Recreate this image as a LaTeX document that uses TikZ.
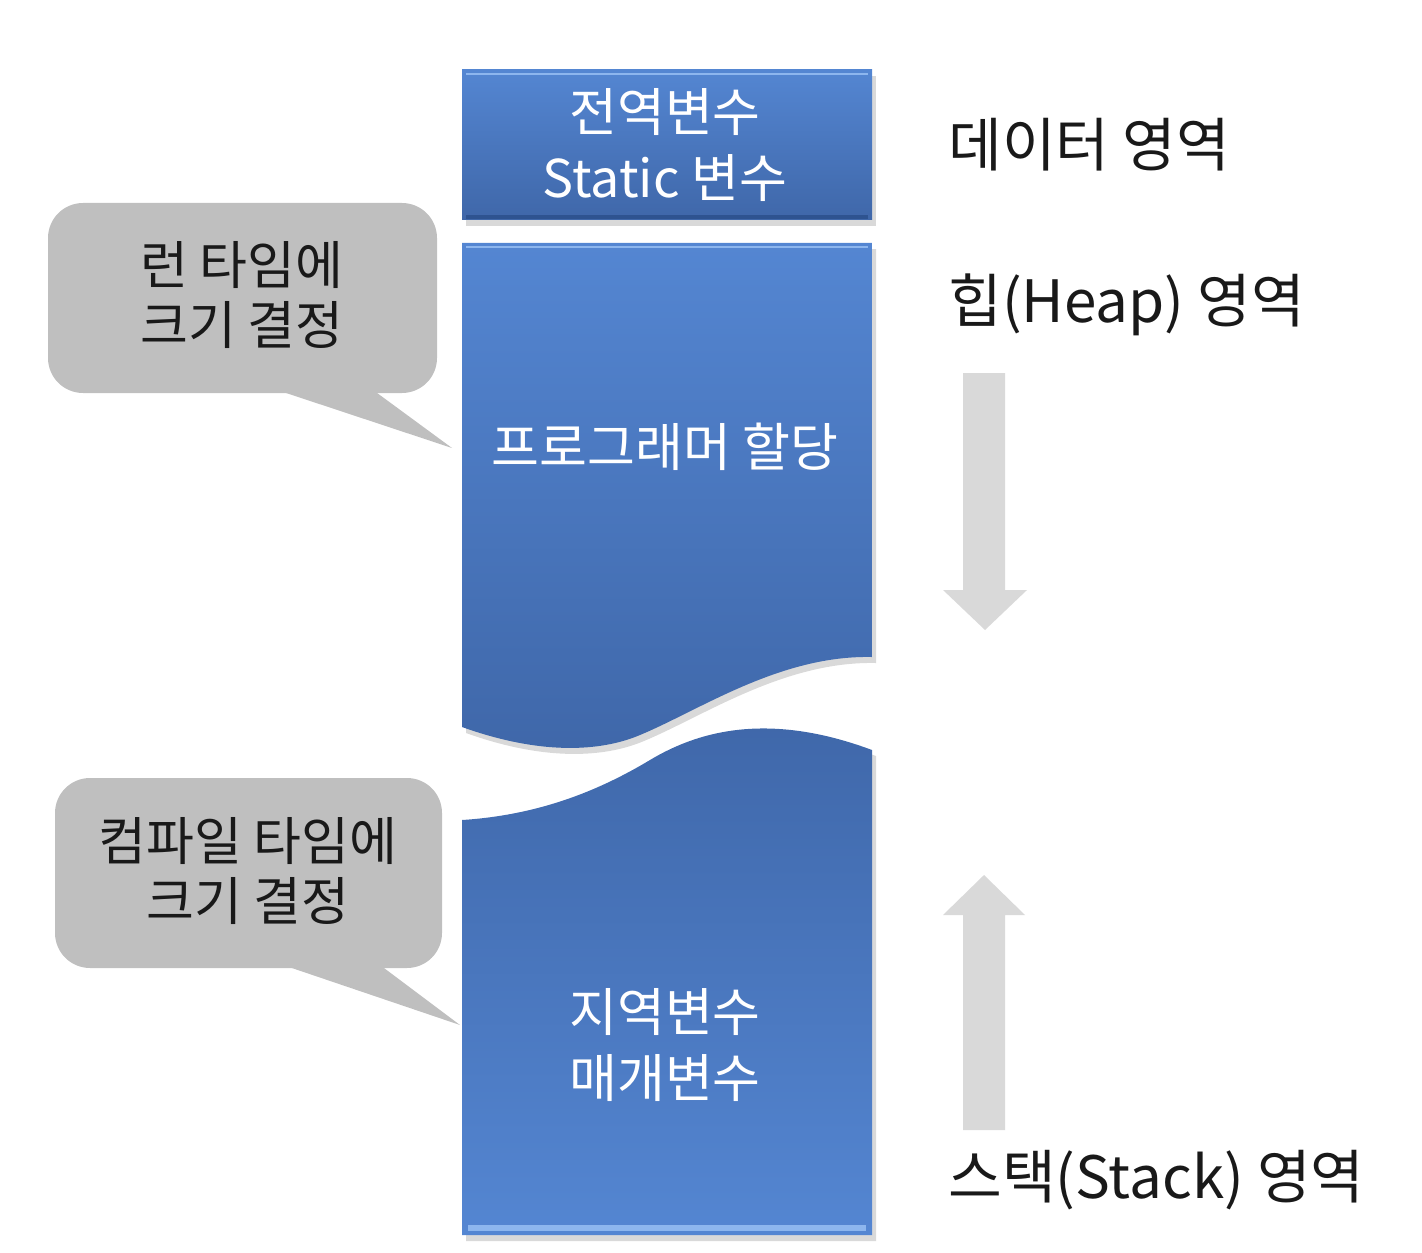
\documentclass[tikz,border=0pt]{standalone}
\usepackage{fontspec}
\setmainfont{Noto Sans CJK KR}
\usetikzlibrary{shadows}

\definecolor{boxlight}{HTML}{5486D2}
\definecolor{boxdark}{HTML}{3F67A9}
\definecolor{bevellight}{HTML}{8DB6EE}
\definecolor{beveldark}{HTML}{2E5390}
\definecolor{calloutgray}{HTML}{BFBFBF}
\definecolor{arrowgray}{HTML}{D9D9D9}

\begin{document}
\begin{tikzpicture}[x=0.01cm, y=-0.01cm,
	membox/.style={drop shadow={opacity=0.3, shadow xshift=0.04cm, shadow yshift=-0.06cm}},
	boxtext/.style={text=white, font=\fontsize{14.8}{18.5}\selectfont, align=center},
	calltext/.style={text=black!90, font=\fontsize{14.8}{17}\selectfont, align=center},
	areatext/.style={text=black!90, font=\fontsize{16.6}{19}\selectfont, anchor=west},
	callout/.style={fill=calloutgray},
	growarrow/.style={fill=arrowgray}]
	
	\useasboundingbox (0,0) rectangle (1422,1252);
	
	% Memory blocks
	\path[membox, top color=boxlight, bottom color=boxdark]
		(462,70) rectangle (872,220);
	\path[membox, top color=boxlight, bottom color=boxdark]
		(462,243) -- (872,243) -- (872,657)
		.. controls (780,655) and (700,710) .. (640,735)
		.. controls (600,752) and (540,755) .. (462,727) -- cycle;
	\path[membox, top color=boxdark, bottom color=boxlight]
		(462,820) .. controls (540,815) and (600,790) .. (650,760)
		.. controls (700,730) and (770,712) .. (872,750)
		-- (872,1235) -- (462,1235) -- cycle;
	
	% Bevel edges
	\draw[bevellight, line width=0.8pt] (466,74) -- (868,74);
	\draw[beveldark, line width=1pt] (466,217) -- (868,217);
	\draw[bevellight, line width=0.8pt] (466,247) -- (868,247);
	\draw[bevellight, line width=1.6pt] (468,1228) -- (866,1228);
	
	% Block labels
	\node[boxtext] (global) at (665,145) {전역변수\\Static 변수};
	\node[boxtext] (heapalloc) at (665,447) {프로그래머 할당};
	\node[boxtext] (local) at (665,1045) {지역변수\\매개변수};
	
	% Area labels
	\node[areatext] (data) at (936,145) {데이터 영역};
	\node[areatext] (heap) at (936,305) {힙(Heap) 영역};
	\node[areatext] (stack) at (936,1180) {스택(Stack) 영역};
	
	% Growth arrows
	\fill[growarrow] (963,373) -- (1005,373) -- (1005,590) -- (1027,590)
		-- (985,630) -- (943,590) -- (963,590) -- cycle;
	\fill[growarrow] (963,1130) -- (1005,1130) -- (1005,915) -- (1025,915)
		-- (984,875) -- (943,915) -- (963,915) -- cycle;
	
	% Callouts
	\fill[callout, rounded corners=0.35cm] (48,203) rectangle (437,393);
	\fill[callout] (277,390) -- (373,390) -- (452,448) -- cycle;
	\node[calltext] (runtime) at (242,295) {런 타임에\\크기 결정};
	
	\fill[callout, rounded corners=0.35cm] (55,778) rectangle (442,968);
	\fill[callout] (283,965) -- (380,965) -- (460,1025) -- cycle;
	\node[calltext] (compiletime) at (248,871) {컴파일 타임에\\크기 결정};
	
\end{tikzpicture}
\end{document}
